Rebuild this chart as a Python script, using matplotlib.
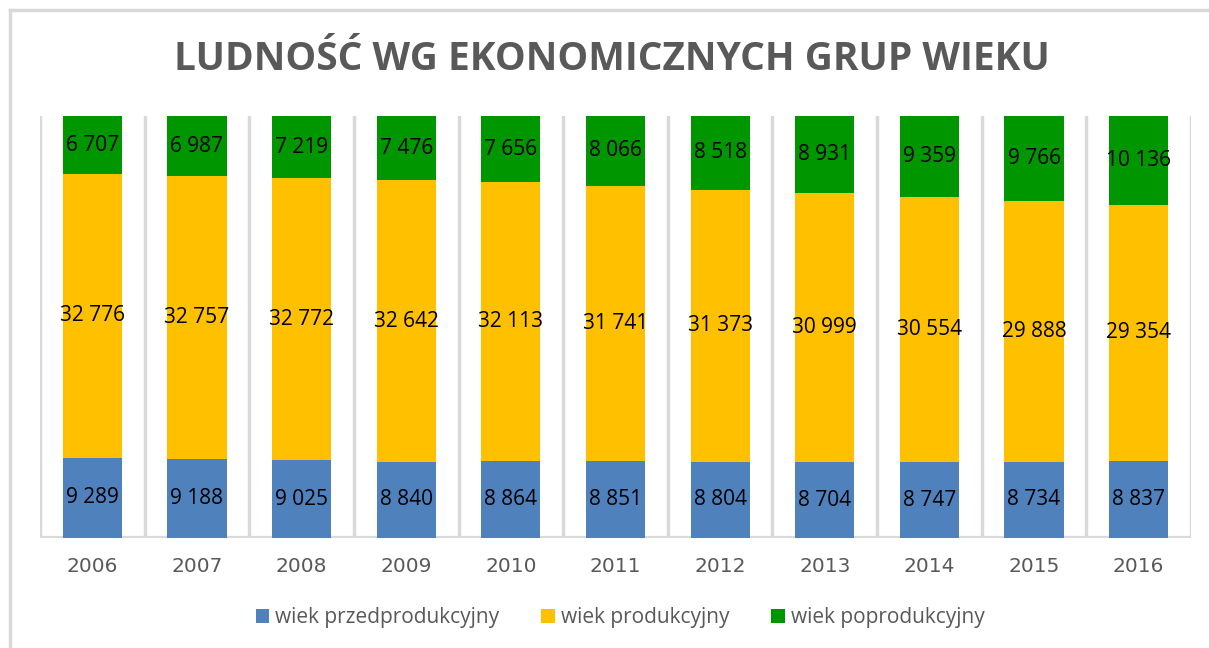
import numpy as np
import matplotlib.pyplot as plt
from matplotlib.lines import Line2D

# Data
years = ['2006', '2007', '2008', '2009', '2010', '2011', '2012', '2013', '2014', '2015', '2016']
przed = [9289, 9188, 9025, 8840, 8864, 8851, 8804, 8704, 8747, 8734, 8837]
prod = [32776, 32757, 32772, 32642, 32113, 31741, 31373, 30999, 30554, 29888, 29354]
popr = [6707, 6987, 7219, 7476, 7656, 8066, 8518, 8931, 9359, 9766, 10136]

series = [
    ('wiek przedprodukcyjny', przed, '#4f81bd'),
    ('wiek produkcyjny', prod, '#ffc000'),
    ('wiek poprodukcyjny', popr, '#009600'),
]

W, H = 1209, 648
fig = plt.figure(figsize=(W / 100, H / 100), dpi=100)
ax = fig.add_axes([40 / W, 1 - 538 / H, (1191 - 40) / W, (538 - 116) / H])

x = np.arange(len(years))
total = np.array(przed) + np.array(prod) + np.array(popr)
bottom = np.zeros(len(years))
for name, vals, col in series:
    share = np.array(vals) / total
    ax.bar(x, share, bottom=bottom, width=0.565, color=col, label=name, zorder=3)
    for xi, b, s, v in zip(x, bottom, share, vals):
        ax.text(xi, b + s / 2, f'{v:,}'.replace(',', ' '), ha='center', va='center',
                fontsize=15, color='black', family='Open Sans', zorder=4)
    bottom += share

ax.set_xlim(-0.5, len(years) - 0.5)
ax.set_ylim(0, 1)
ax.set_yticks([])
ax.set_xticks(x)
ax.set_xticklabels(years, fontsize=14.5, color='#595959', family='DejaVu Sans')
ax.tick_params(axis='x', length=0, pad=14)
for s in ax.spines.values():
    s.set_visible(False)

# vertical gridlines between categories
for b in np.arange(-0.5, len(years), 1.0):
    ax.axvline(b, color='#d9d9d9', lw=2.5, zorder=1)
ax.axhline(0, color='#d9d9d9', lw=3, zorder=2)

fig.text(0.506, 1 - 60 / H, 'LUDNOŚĆ WG EKONOMICZNYCH GRUP WIEKU', ha='center', va='center',
         fontsize=28, fontweight='bold', color='#595959', family='Open Sans')

leg = fig.legend(loc='center', bbox_to_anchor=(0.513, 1 - 618 / H), ncol=3, frameon=False,
                 handlelength=0.65, handleheight=0.65, columnspacing=2.0,
                 handletextpad=0.3, prop={'family': 'Open Sans', 'size': 15})
for t in leg.get_texts():
    t.set_color('#595959')

# outer chart border
fig.add_artist(Line2D([10 / W, 10 / W], [0, 1 - 10 / H], color='#d9d9d9', lw=2.5))
fig.add_artist(Line2D([10 / W, 1], [1 - 10 / H, 1 - 10 / H], color='#d9d9d9', lw=2.5))

plt.savefig('out.png', dpi=100)
